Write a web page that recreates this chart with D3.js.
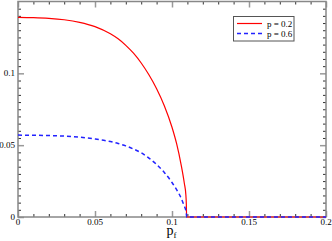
<!DOCTYPE html>
<html>
<head>
<meta charset="utf-8">
<script src="https://cdn.jsdelivr.net/npm/d3@7"></script>
<style>
  body { margin: 0; background: #fff; }
</style>
</head>
<body>
<svg width="332" height="241" font-family="'Liberation Serif', 'Times New Roman', serif"></svg>
<script>
// p_f values and the two curves
let pf    = [0, 0.01, 0.02, 0.03, 0.04, 0.05, 0.06, 0.065, 0.07, 0.075, 0.08, 0.085, 0.09, 0.095, 0.1, 0.103, 0.106, 0.108, 0.109, 0.1093, 0.1095, 0.2];
let red   = [0.139, 0.1388, 0.1383, 0.1373, 0.1355, 0.1325, 0.1275, 0.124, 0.1195, 0.114, 0.1072, 0.099, 0.0893, 0.0775, 0.0625, 0.051, 0.036, 0.0235, 0.0155, 0.009, 0, 0];
let blue  = [0.057, 0.0569, 0.0567, 0.0563, 0.0556, 0.0543, 0.0525, 0.0512, 0.0495, 0.0473, 0.0447, 0.041, 0.0365, 0.031, 0.024, 0.019, 0.013, 0.0075, 0.0045, 0.0025, 0, 0];
let xTicks = [0, 0.05, 0.1, 0.15, 0.2];
let xTickLabels = ["0", "0.05", "0.1", "0.15", "0.2"];
let yTicks = [0, 0.05, 0.1];
let yTickLabels = ["0", "0.05", "0.1"];
let seriesNames = ["p = 0.2", "p = 0.6"];

let svg = d3.select("svg");
let mLeft = 18, mRight = 326, mTop = 1.5, mBottom = 217;

let x = d3.scaleLinear().domain([0, 0.2]).range([mLeft, mRight]);
let y = d3.scaleLinear().domain([0, 0.15]).range([mBottom, mTop]);

let minorX = d3.range(0, 0.2001, 0.01).filter(v => Math.abs(v / 0.05 - Math.round(v / 0.05)) > 1e-6);
let minorY = d3.range(0, 0.1501, 0.005).filter(v => Math.abs(v / 0.05 - Math.round(v / 0.05)) > 1e-6);

function addAxis(axis, transform, tickValues, size, color, width) {
    let g = svg.append("g")
        .attr("transform", transform)
        .call(axis.tickValues(tickValues).tickSize(size).tickFormat(""));
    g.select(".domain").remove();
    g.selectAll("line").attr("stroke", color).attr("stroke-width", width);
    return g;
}

// minor ticks (short, dark)
addAxis(d3.axisBottom(x), `translate(0,${mBottom})`, minorX, -3, "#333", 1);
addAxis(d3.axisTop(x), `translate(0,${mTop})`, minorX, -3, "#333", 1);
addAxis(d3.axisLeft(y), `translate(${mLeft},0)`, minorY, -3, "#333", 1);
addAxis(d3.axisRight(y), `translate(${mRight},0)`, minorY, -3, "#333", 1);
// major ticks (longer, grey)
addAxis(d3.axisBottom(x), `translate(0,${mBottom})`, xTicks, -6, "#999", 1.5);
addAxis(d3.axisTop(x), `translate(0,${mTop})`, xTicks, -6, "#999", 1.5);
addAxis(d3.axisLeft(y), `translate(${mLeft},0)`, yTicks, -6, "#999", 1.5);
addAxis(d3.axisRight(y), `translate(${mRight},0)`, yTicks, -6, "#999", 1.5);

// frame
svg.append("rect")
    .attr("x", mLeft).attr("y", mTop)
    .attr("width", mRight - mLeft).attr("height", mBottom - mTop)
    .attr("fill", "none").attr("stroke", "#888").attr("stroke-width", 1.5);

// tick labels
svg.append("g").selectAll("text")
    .data(xTicks)
    .join("text")
    .attr("x", d => x(d))
    .attr("y", mBottom + 8)
    .attr("text-anchor", "middle")
    .attr("font-size", 9)
    .text((d, i) => xTickLabels[i]);

svg.append("g").selectAll("text")
    .data(yTicks)
    .join("text")
    .attr("x", mLeft - 3)
    .attr("y", d => y(d) + 3)
    .attr("text-anchor", "end")
    .attr("font-size", 9)
    .text((d, i) => yTickLabels[i]);

// x title
let title = svg.append("text")
    .attr("x", 166.5)
    .attr("y", 235)
    .attr("font-size", 14);
title.append("tspan").text("p");
title.append("tspan").attr("font-size", 9).attr("dy", 3).text("f");

// curves
let line = d3.line().x(d => x(d[0])).y(d => y(d[1])).curve(d3.curveMonotoneX);

svg.append("path")
    .datum(pf.map((p, i) => [p, red[i]]))
    .attr("fill", "none")
    .attr("stroke", "#ff0000")
    .attr("stroke-width", 1.2)
    .attr("d", line);

svg.append("path")
    .datum(pf.map((p, i) => [p, blue[i]]))
    .attr("fill", "none")
    .attr("stroke", "#2222ff")
    .attr("stroke-width", 1.5)
    .attr("stroke-dasharray", "4,3")
    .attr("d", line);

// legend
let legend = svg.append("g");
legend.append("rect")
    .attr("x", 233.5).attr("y", 16.5)
    .attr("width", 60.5).attr("height", 24.5)
    .attr("fill", "#fff").attr("stroke", "#555").attr("stroke-width", 1);
let styles = [
    {color: "#ff0000", dash: null, width: 1.2},
    {color: "#2222ff", dash: "4,3", width: 1.5}
];
seriesNames.forEach(function(name, i) {
    let ly = 23.5 + i * 10;
    legend.append("line")
        .attr("x1", 237).attr("x2", 262)
        .attr("y1", ly).attr("y2", ly)
        .attr("stroke", styles[i].color)
        .attr("stroke-width", styles[i].width)
        .attr("stroke-dasharray", styles[i].dash);
    legend.append("text")
        .attr("x", 267).attr("y", ly + 3.5)
        .attr("font-size", 9)
        .text(name);
});
</script>
</body>
</html>
